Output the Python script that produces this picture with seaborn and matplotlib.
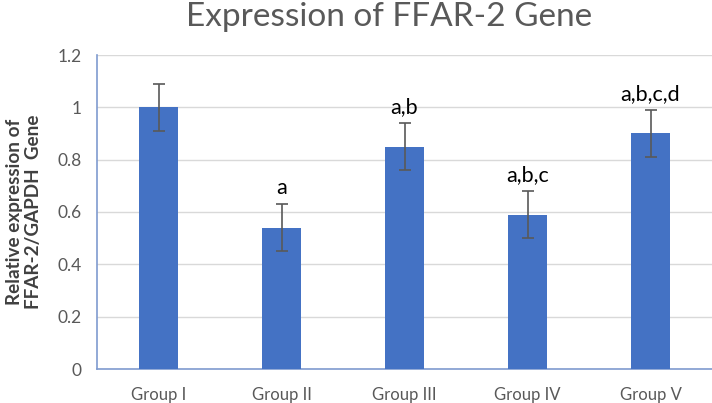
import matplotlib
matplotlib.use("Agg")
import matplotlib.pyplot as plt
import seaborn as sns
import pandas as pd

groups = ["Group I", "Group II", "Group III", "Group IV", "Group V"]
values = [1.00, 0.54, 0.85, 0.59, 0.90]
errors = [0.09, 0.09, 0.09, 0.09, 0.09]
labels = ["", "a", "a,b", "a,b,c", "a,b,c,d"]
yticks = [0, 0.2, 0.4, 0.6, 0.8, 1, 1.2]
ytick_labels = ["0", "0.2", "0.4", "0.6", "0.8", "1", "1.2"]

sns.set_style("white")
plt.rcParams["font.family"] = ["Lato", "DejaVu Sans"]

df = pd.DataFrame({"group": groups, "value": values})

fig = plt.figure(figsize=(7.12, 4.03), dpi=100)
ax = fig.add_axes([97 / 712, 1 - 369 / 403, 615 / 712, (369 - 55) / 403])

sns.barplot(data=df, x="group", y="value", color="#4472C4", saturation=1,
            width=0.31, errorbar=None, linewidth=0, ax=ax, zorder=3)
ax.errorbar(range(len(groups)), values, yerr=errors, fmt="none",
            ecolor="#595959", elinewidth=1.2, capsize=4, capthick=1.2, zorder=4)

for i, (v, e, t) in enumerate(zip(values, errors, labels)):
    if t:
        ax.text(i, v + e + 0.022, t, ha="center", va="bottom",
                fontsize=15.5, color="#000000")

ax.set_ylim(0, 1.2)
ax.set_xlim(-0.5, len(groups) - 0.5)
ax.set_yticks(yticks)
ax.set_yticklabels(ytick_labels)
ax.yaxis.grid(True, color="#D9D9D9", linewidth=1, zorder=0)
ax.set_axisbelow(True)
ax.tick_params(axis="y", labelsize=12.5, labelcolor="#595959", length=0, pad=11)
ax.tick_params(axis="x", labelsize=12, labelcolor="#595959", length=0, pad=13)
for s in ["top", "right"]:
    ax.spines[s].set_visible(False)
for s in ["left", "bottom"]:
    ax.spines[s].set_color("#7F9BD0")
    ax.spines[s].set_linewidth(1.2)
ax.set_xlabel("")
ax.set_ylabel("Relative expression of\nFFAR-2/GAPDH  Gene", fontsize=13.6,
              fontweight="bold", color="#404040", labelpad=11, linespacing=1.15)

fig.text(389 / 712, 1 - 17 / 403, "Expression of FFAR-2 Gene", ha="center",
         va="center", fontsize=24, color="#595959")

fig.savefig("out.png", dpi=100)
